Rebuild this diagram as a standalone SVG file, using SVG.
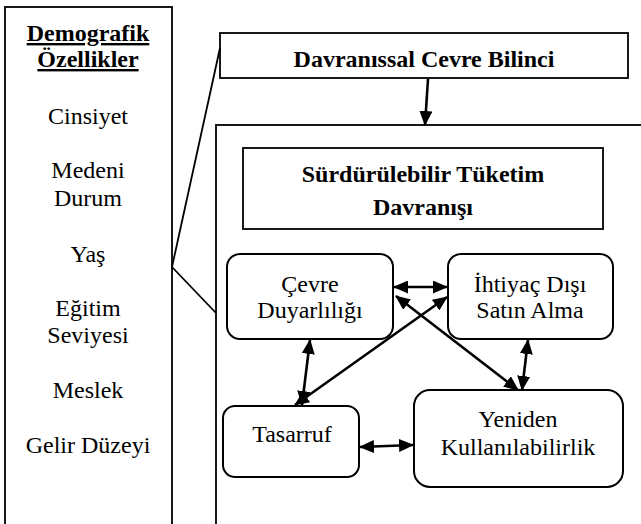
<svg xmlns="http://www.w3.org/2000/svg" width="641" height="524" viewBox="0 0 641 524">
<style>
.box{fill:#fff;stroke:#000;stroke-width:1.8}
.rbox{fill:#fff;stroke:#000;stroke-width:2}
text{font-family:'Liberation Serif','Times New Roman',serif;font-size:24px;fill:#000;text-anchor:middle}
.b{font-weight:bold}
.u{text-decoration:underline}
.c{stroke:#000;stroke-width:2.6;fill:none}
.l{stroke:#000;stroke-width:1.8;fill:none}
</style>
<defs>
<marker id="ah" markerUnits="userSpaceOnUse" markerWidth="15" markerHeight="13" refX="14" refY="6.5" orient="auto-start-reverse" viewBox="0 0 15 13">
<path d="M0,0 L15,6.5 L0,13 Z" fill="#000"/>
</marker>
</defs>
<g id="demografik">
<rect class="box" x="5" y="7" width="167" height="530"/>
<text class="b u" x="88" y="41">Demografik</text>
<text class="b u" x="88" y="67">Özellikler</text>
<text x="88" y="124">Cinsiyet</text>
<text x="88" y="178">Medeni</text>
<text x="88" y="206">Durum</text>
<text x="88" y="262">Yaş</text>
<text x="88" y="316">Eğitim</text>
<text x="88" y="343">Seviyesi</text>
<text x="88" y="398">Meslek</text>
<text x="88" y="453">Gelir Düzeyi</text>
</g>
<g id="davranissal">
<rect class="box" x="220" y="33" width="408" height="45"/>
<text class="b" x="424" y="67">Davranıssal Cevre Bilinci</text>
</g>
<g id="cerceve">
<rect class="box" x="216" y="125" width="440" height="420"/>
</g>
<g id="surdurulebilir">
<rect class="box" x="243" y="148" width="360" height="81"/>
<text class="b" x="423" y="182">Sürdürülebilir Tüketim</text>
<text class="b" x="423" y="215">Davranışı</text>
</g>
<g id="cevre">
<rect class="rbox" x="227" y="254" width="166" height="85" rx="13"/>
<text x="310" y="292">Çevre</text>
<text x="310" y="318">Duyarlılığı</text>
</g>
<g id="ihtiyac">
<rect class="rbox" x="448" y="254" width="165" height="85" rx="13"/>
<text x="530" y="292">İhtiyaç Dışı</text>
<text x="530" y="318">Satın Alma</text>
</g>
<g id="tasarruf">
<rect class="rbox" x="223" y="406" width="136" height="71" rx="12"/>
<text x="292" y="442">Tasarruf</text>
</g>
<g id="yeniden">
<rect class="rbox" x="414" y="390" width="209" height="97" rx="16"/>
<text x="518" y="427">Yeniden</text>
<text x="518" y="455">Kullanılabilirlik</text>
</g>
<g id="connectors">
<line class="l" x1="172" y1="267" x2="220" y2="48"/>
<line class="l" x1="172" y1="267" x2="216" y2="313"/>
<line class="c" x1="428" y1="79" x2="425" y2="125" marker-end="url(#ah)"/>
<line class="c" x1="394" y1="287" x2="447" y2="287" marker-start="url(#ah)" marker-end="url(#ah)"/>
<line class="c" x1="295" y1="405" x2="447" y2="297" marker-start="url(#ah)" marker-end="url(#ah)"/>
<line class="c" x1="302" y1="405" x2="310" y2="340" marker-start="url(#ah)" marker-end="url(#ah)"/>
<line class="c" x1="396" y1="296" x2="518" y2="390" marker-start="url(#ah)" marker-end="url(#ah)"/>
<line class="c" x1="528" y1="340" x2="522" y2="390" marker-start="url(#ah)" marker-end="url(#ah)"/>
<line class="c" x1="360" y1="447" x2="413" y2="445" marker-start="url(#ah)" marker-end="url(#ah)"/>
</g>
</svg>
